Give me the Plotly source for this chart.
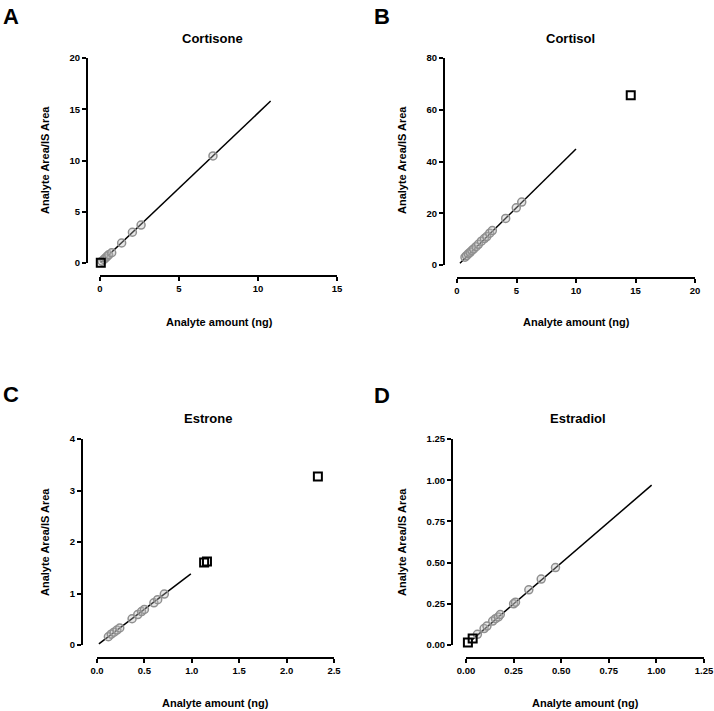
import plotly.graph_objects as go

W, H = 714, 711

# ---------------- data ----------------
panel_labels = ["A", "B", "C", "D"]
titles = ["Cortisone", "Cortisol", "Estrone", "Estradiol"]

cortisone_x = [0.12, 0.25, 0.35, 0.45, 0.55, 0.74, 1.37, 2.05, 2.6, 7.15]
cortisone_y = [0.18, 0.35, 0.5, 0.65, 0.8, 1.0, 1.95, 3.0, 3.7, 10.45]
cortisone_out_x = [0.05]
cortisone_out_y = [0.03]
cortisone_fit_x = [0.05, 10.8]
cortisone_fit_y = [0.05, 15.8]

cortisol_x = [0.67, 0.8, 0.95, 1.1, 1.25, 1.4, 1.6, 1.8, 2.05, 2.3, 2.5, 2.75, 2.97, 4.09, 4.98, 5.44]
cortisol_y = [3.0, 3.6, 4.3, 4.9, 5.6, 6.2, 7.1, 8.0, 9.2, 10.2, 11.0, 12.3, 13.3, 18.0, 22.1, 24.3]
cortisol_out_x = [14.6]
cortisol_out_y = [65.6]
cortisol_fit_x = [0.25, 10.0]
cortisol_fit_y = [0.7, 44.8]

estrone_x = [0.12, 0.15, 0.18, 0.21, 0.24, 0.37, 0.43, 0.47, 0.5, 0.6, 0.64, 0.71]
estrone_y = [0.16, 0.21, 0.25, 0.29, 0.33, 0.51, 0.59, 0.65, 0.69, 0.82, 0.88, 0.99]
estrone_out_x = [1.13, 1.16, 2.33]
estrone_out_y = [1.6, 1.62, 3.27]
estrone_fit_x = [0.02, 0.99]
estrone_fit_y = [0.02, 1.38]

estradiol_x = [0.06, 0.095, 0.11, 0.14, 0.155, 0.17, 0.18, 0.25, 0.26, 0.33, 0.395, 0.47]
estradiol_y = [0.065, 0.10, 0.115, 0.145, 0.16, 0.17, 0.185, 0.25, 0.26, 0.335, 0.40, 0.47]
estradiol_out_x = [0.01, 0.035]
estradiol_out_y = [0.015, 0.04]
estradiol_fit_x = [0.03, 0.975]
estradiol_fit_y = [0.03, 0.97]

x_ranges = [[0, 15], [0, 20], [0, 2.5], [0, 1.25]]
y_ranges = [[0, 20], [0, 80], [0, 4], [0, 1.25]]
x_dticks = [5, 5, 0.5, 0.25]
y_dticks = [5, 20, 1, 0.25]
x_formats = ["d", "d", ".1f", ".2f"]
y_formats = ["d", "d", "d", ".2f"]

x_title = "Analyte amount (ng)"
y_title = "Analyte Area/IS Area"

series = [
    (cortisone_x, cortisone_y, cortisone_out_x, cortisone_out_y, cortisone_fit_x, cortisone_fit_y),
    (cortisol_x, cortisol_y, cortisol_out_x, cortisol_out_y, cortisol_fit_x, cortisol_fit_y),
    (estrone_x, estrone_y, estrone_out_x, estrone_out_y, estrone_fit_x, estrone_fit_y),
    (estradiol_x, estradiol_y, estradiol_out_x, estradiol_out_y, estradiol_fit_x, estradiol_fit_y),
]

# ---------------- layout geometry (pixels) ----------------
# (x0, x1, ytop, ybottom, xaxis_line_y, yaxis_line_x)
geom = [
    (100, 337, 58, 263, 276, 87),
    (457, 695, 58, 265, 278, 444),
    (97, 334, 439, 645, 658, 82),
    (466, 704, 439, 645, 658, 452),
]
title_pos = [(212, 38), (570, 38), (208, 418), (578, 418)]
label_pos = [(11, 17), (382, 17), (11, 394), (382, 395)]
xtitle_pos = [(219, 322), (576, 322), (215, 703), (585, 703)]
ytitle_pos = [(45, 160), (402, 160), (45, 542), (402, 542)]

FONT = "Arial, Liberation Sans, Helvetica, sans-serif"

fig = go.Figure()
layout = dict(
    width=W, height=H,
    margin=dict(l=0, r=0, t=0, b=0, pad=0, autoexpand=False),
    paper_bgcolor="white", plot_bgcolor="white",
    showlegend=False,
    annotations=[],
)

def px(x):
    return x / W

def py(y):
    return 1 - y / H

for i, (xs, ys, oxs, oys, fx, fy) in enumerate(series):
    n = "" if i == 0 else str(i + 1)
    xa, ya = "x" + n, "y" + n
    x0, x1, yt, yb, xline, yline = geom[i]
    common = dict(
        showline=True, linecolor="black", linewidth=2,
        ticks="outside", ticklen=4, tickwidth=2, tickcolor="black",
        showgrid=False, zeroline=False, automargin=False,
        tickfont=dict(family=FONT, size=9.5, color="black", weight="bold"),
        anchor="free", fixedrange=True,
    )
    layout["xaxis" + n] = dict(
        common, domain=[px(x0), px(x1)], range=x_ranges[i], dtick=x_dticks[i],
        tick0=0, tickformat=x_formats[i], position=py(xline),
    )
    layout["yaxis" + n] = dict(
        common, domain=[py(yb), py(yt)], range=y_ranges[i], dtick=y_dticks[i],
        tick0=0, tickformat=y_formats[i], position=px(yline),
    )
    fig.add_trace(go.Scatter(
        x=fx, y=fy, mode="lines", xaxis=xa, yaxis=ya,
        line=dict(color="black", width=1.5), cliponaxis=False,
    ))
    fig.add_trace(go.Scatter(
        x=xs, y=ys, mode="markers", xaxis=xa, yaxis=ya, cliponaxis=False,
        marker=dict(symbol="circle", size=8, color="rgba(190,190,190,0.35)",
                    line=dict(color="#8f8f8f", width=1.5)),
    ))
    fig.add_trace(go.Scatter(
        x=oxs, y=oys, mode="markers", xaxis=xa, yaxis=ya, cliponaxis=False,
        marker=dict(symbol="square-open", size=8, color="black",
                    line=dict(color="black", width=2)),
    ))
    tx, ty = title_pos[i]
    layout["annotations"].append(dict(
        x=px(tx), y=py(ty), xref="paper", yref="paper", text=titles[i],
        showarrow=False, xanchor="center", yanchor="middle",
        font=dict(family=FONT, size=13, color="black", weight="bold"),
    ))
    lx, ly = label_pos[i]
    layout["annotations"].append(dict(
        x=px(lx), y=py(ly), xref="paper", yref="paper", text=panel_labels[i],
        showarrow=False, xanchor="center", yanchor="middle",
        font=dict(family=FONT, size=22, color="black", weight="bold"),
    ))
    ax_, ay_ = xtitle_pos[i]
    layout["annotations"].append(dict(
        x=px(ax_), y=py(ay_), xref="paper", yref="paper", text=x_title,
        showarrow=False, xanchor="center", yanchor="middle",
        font=dict(family=FONT, size=11, color="black", weight="bold"),
    ))
    bx, by = ytitle_pos[i]
    layout["annotations"].append(dict(
        x=px(bx), y=py(by), xref="paper", yref="paper", text=y_title,
        showarrow=False, xanchor="center", yanchor="middle", textangle=-90,
        font=dict(family=FONT, size=11, color="black", weight="bold"),
    ))

fig.update_layout(**layout)
fig.write_html(
    "out.html",
    config={"displayModeBar": False},
    post_script="document.documentElement.style.margin='0';document.body.style.margin='0';document.body.style.padding='0';",
)
